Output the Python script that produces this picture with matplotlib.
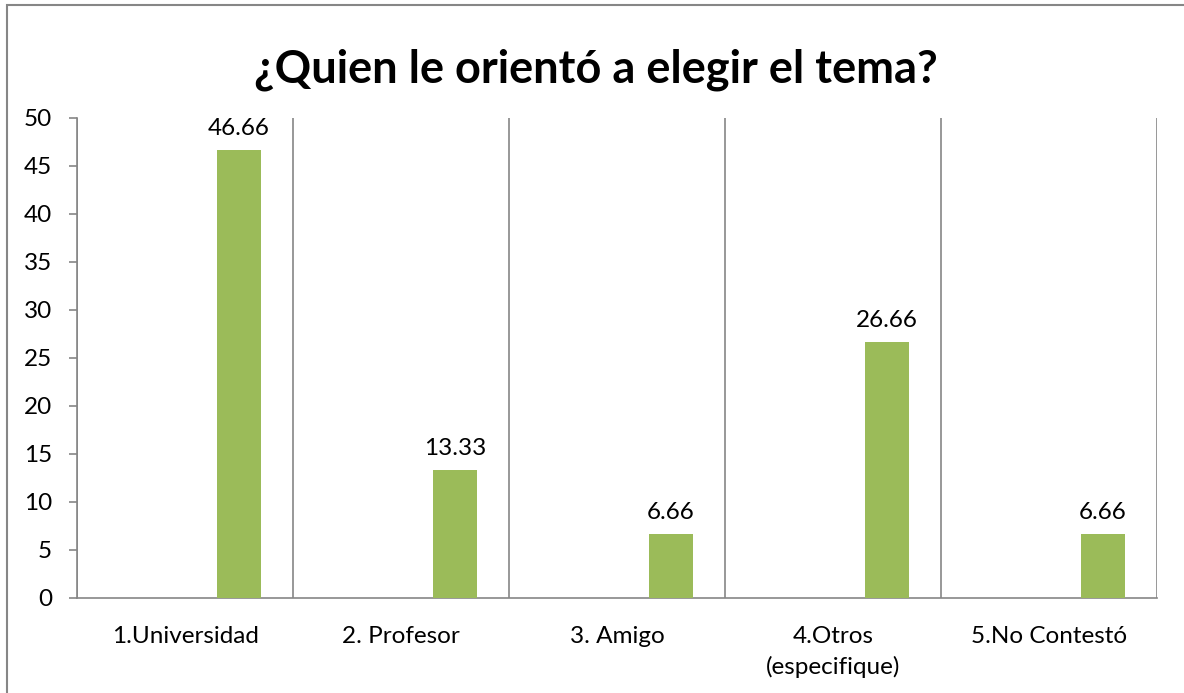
import numpy as np
import matplotlib.pyplot as plt
from matplotlib.patches import Rectangle

categorias = ["1.Universidad", "2. Profesor", "3. Amigo", "4.Otros\n(especifique)", "5.No Contestó"]
valores = [46.66, 13.33, 6.66, 26.66, 6.66]
etiquetas = ["46.66", "13.33", "6.66", "26.66", "6.66"]

plt.rcParams['font.family'] = ['Lato', 'DejaVu Sans']

fig = plt.figure(figsize=(11.84, 6.93), dpi=100)
ax = fig.add_axes([77/1184, 1 - 598/693, 1080/1184, 480/693])

gris = '#868686'
x = np.arange(len(categorias))
barras = ax.bar(x + 0.25, valores, width=0.2, color='#9bbb59', zorder=3)

for b, t in zip(barras, etiquetas):
    ax.text(b.get_x() + b.get_width() / 2, b.get_height() + 1.2, t,
            ha='center', va='bottom', fontsize=17.5)

# lineas verticales entre categorias
for xv in np.arange(-0.5, len(categorias), 1.0):
    ax.axvline(xv, color=gris, lw=1.2, zorder=1)

ax.set_xlim(-0.5, len(categorias) - 0.5)
ax.set_ylim(0, 50)
ax.set_yticks(range(0, 51, 5))
ax.set_xticks(x)
ax.set_xticklabels(categorias, fontsize=17.5, linespacing=1.5)
ax.tick_params(axis='y', labelsize=17.5, length=6, width=1.2, color=gris, pad=12)
ax.tick_params(axis='x', length=0, pad=20)

for s in ['top', 'right']:
    ax.spines[s].set_visible(False)
for s in ['left', 'bottom']:
    ax.spines[s].set_color(gris)
    ax.spines[s].set_linewidth(1.2)

fig.text(596/1184, 1 - 70/693, "¿Quien le orientó a elegir el tema?",
         ha='center', va='center', fontsize=32.5, fontweight='bold')

# marco del grafico
fig.patches.append(Rectangle((7/1184, -0.1), 1.2, 1 - 5/693 + 0.1,
                             transform=fig.transFigure, fill=False,
                             edgecolor=gris, lw=1.5))

fig.savefig('out.png', dpi=100)
